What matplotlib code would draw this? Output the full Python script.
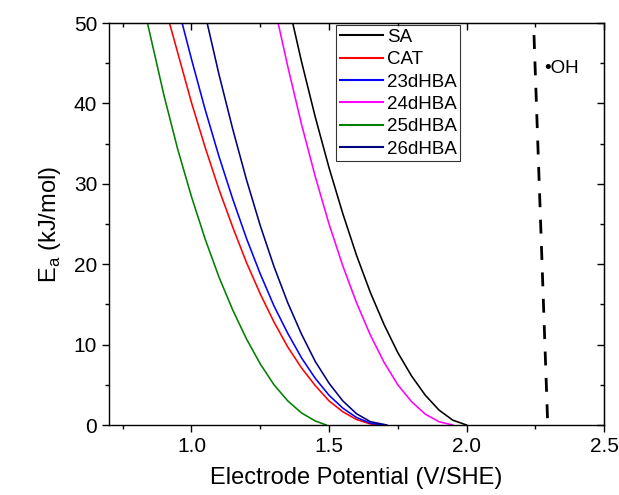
import matplotlib
matplotlib.use("Agg")
from matplotlib import pyplot as plt
from matplotlib.ticker import MultipleLocator

plt.rcParams['font.family'] = ['Liberation Sans', 'DejaVu Sans']

# courbes : potentiel (V/SHE), Ea (kJ/mol)
sa_x = [1.368, 1.40, 1.45, 1.50, 1.55, 1.60, 1.65, 1.70, 1.75, 1.80, 1.85, 1.90, 1.95, 2.00]
sa_y = [50.0, 45.2, 38.3, 32.0, 26.3, 21.1, 16.5, 12.5, 9.0, 6.1, 3.7, 1.85, 0.6, 0.0]

cat_x = [0.92, 0.95, 1.00, 1.05, 1.10, 1.15, 1.20, 1.25, 1.30, 1.35, 1.40, 1.45, 1.50, 1.55, 1.60, 1.65, 1.69]
cat_y = [50.0, 46.3, 40.1, 34.5, 29.3, 24.6, 20.2, 16.3, 12.8, 9.7, 7.1, 4.9, 3.0, 1.65, 0.68, 0.13, 0.0]

d23_x = [0.966, 1.00, 1.05, 1.10, 1.15, 1.20, 1.25, 1.30, 1.35, 1.40, 1.45, 1.50, 1.55, 1.60, 1.65, 1.70]
d23_y = [50.0, 45.5, 39.2, 33.4, 28.1, 23.2, 18.8, 14.8, 11.4, 8.35, 5.8, 3.7, 2.1, 0.93, 0.23, 0.0]

d24_x = [1.315, 1.35, 1.40, 1.45, 1.50, 1.55, 1.60, 1.65, 1.70, 1.75, 1.80, 1.85, 1.90, 1.95]
d24_y = [50.0, 44.6, 37.4, 30.9, 25.0, 19.8, 15.2, 11.2, 7.8, 5.0, 2.9, 1.35, 0.4, 0.0]

d25_x = [0.84, 0.90, 0.95, 1.00, 1.05, 1.10, 1.15, 1.20, 1.25, 1.30, 1.35, 1.40, 1.45, 1.49]
d25_y = [50.0, 41.0, 34.3, 28.4, 23.1, 18.4, 14.3, 10.7, 7.6, 5.0, 3.0, 1.5, 0.5, 0.0]

d26_x = [1.057, 1.10, 1.15, 1.20, 1.25, 1.30, 1.35, 1.40, 1.45, 1.50, 1.55, 1.60, 1.65, 1.71]
d26_y = [50.0, 43.6, 36.8, 30.5, 24.8, 19.7, 15.2, 11.3, 7.9, 5.2, 3.0, 1.4, 0.42, 0.0]

# ligne du radical OH
oh_x = [2.245, 2.295]
oh_y = [48.5, 0.0]

fig = plt.figure(figsize=(6.19, 4.95), dpi=100)
ax = fig.add_axes([0.176, 0.1414, 0.8, 0.8121])

lw = 1.15
ax.plot(sa_x, sa_y, color='black', lw=lw, label='SA')
ax.plot(cat_x, cat_y, color='#FF0000', lw=lw, label='CAT')
ax.plot(d23_x, d23_y, color='#0000FF', lw=lw, label='23dHBA')
ax.plot(d24_x, d24_y, color='#FF00FF', lw=lw, label='24dHBA')
ax.plot(d25_x, d25_y, color='#008000', lw=lw, label='25dHBA')
ax.plot(d26_x, d26_y, color='#000080', lw=lw, label='26dHBA')
ax.plot(oh_x, oh_y, color='black', lw=2.0, dashes=(5, 4.5))
ax.text(2.283, 44.4, '•OH', fontsize=13.5, va='center', ha='left')

ax.set_xlim(0.7, 2.5)
ax.set_ylim(0, 50)
ax.xaxis.set_major_locator(MultipleLocator(0.5))
ax.xaxis.set_minor_locator(MultipleLocator(0.25))
ax.yaxis.set_major_locator(MultipleLocator(10))
ax.yaxis.set_minor_locator(MultipleLocator(5))

ax.tick_params(which='both', direction='out', labelsize=15, width=1.0)
ax.tick_params(which='major', length=5)
ax.tick_params(which='minor', length=3)
sec_x = ax.secondary_xaxis('top')
sec_x.xaxis.set_major_locator(MultipleLocator(0.5))
sec_x.xaxis.set_minor_locator(MultipleLocator(0.25))
sec_x.tick_params(which='both', direction='in', labeltop=False, width=1.0)
sec_x.tick_params(which='major', length=5)
sec_x.tick_params(which='minor', length=3)
sec_y = ax.secondary_yaxis('right')
sec_y.yaxis.set_major_locator(MultipleLocator(10))
sec_y.yaxis.set_minor_locator(MultipleLocator(5))
sec_y.tick_params(which='both', direction='in', labelright=False, width=1.0)
sec_y.tick_params(which='major', length=5)
sec_y.tick_params(which='minor', length=3)

for s in ax.spines.values():
    s.set_linewidth(1.0)

ax.set_xlabel('Electrode Potential (V/SHE)', fontsize=17, labelpad=8)
ax.set_ylabel('E$_\\mathregular{a}$ (kJ/mol)', fontsize=17, labelpad=8)

leg = ax.legend(loc='upper left', bbox_to_anchor=(0.455, 1.0), fontsize=13.5,
                frameon=True, fancybox=False, edgecolor='black',
                handlelength=2.3, handletextpad=0.2, labelspacing=0.28,
                borderpad=0.2, borderaxespad=0.1)
leg.get_frame().set_linewidth(0.8)
for line in leg.get_lines():
    line.set_linewidth(1.5)

fig.savefig('out.png', dpi=100)
